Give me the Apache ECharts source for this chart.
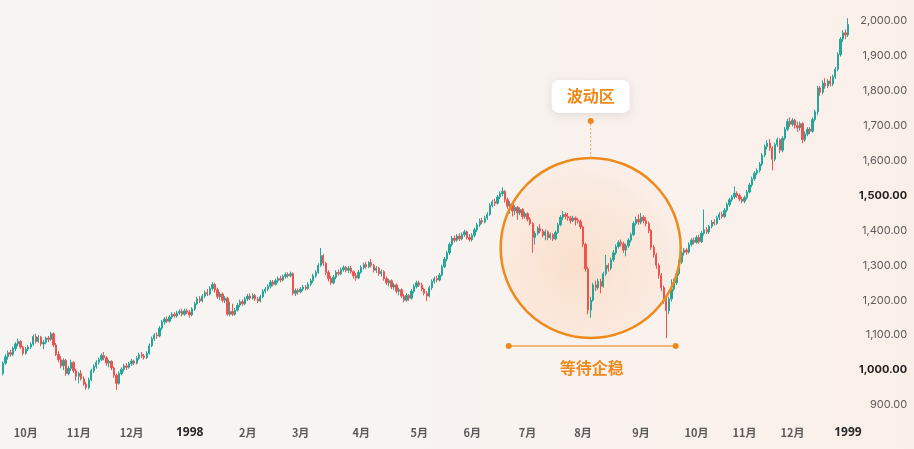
<!DOCTYPE html>
<html><head><meta charset="utf-8">
<script src="https://cdn.jsdelivr.net/npm/echarts@6/dist/echarts.min.js"></script>
<style>
html,body{margin:0;padding:0;width:914px;height:449px;overflow:hidden;
background:linear-gradient(90deg,#f7f5f3 0%,#f8f4f1 45%,#fbefe9 100%);}
#c{width:914px;height:449px;}
</style></head><body><div id="c"></div>
<script>
// Daily candles [open, close, low, high] (Sep 1997 – Dec 1998)
const candlesA = [[990,1020,985,1025],[1020,1038,1015,1045],[1038,1050,1030,1056],[1050,1045,1038,1058],[1045,1062,1040,1068],[1062,1075,1055,1080],[1075,1082,1068,1090],[1082,1066,1060,1086],[1066,1048,1042,1070],[1048,1060,1044,1066],[1060,1066,1055,1072],[1066,1074,1060,1080],[1074,1096,1070,1102],[1096,1082,1076,1104],[1082,1094,1078,1100],[1094,1075,1068,1098],[1075,1080,1060,1086],[1080,1092,1074,1096],[1092,1088,1080,1098],[1088,1104,1084,1110]];
const candlesB = [[1104,1072,1066,1108],[1072,1045,1040,1078],[1045,1030,1022,1054],[1030,1012,1005,1040],[1012,1028,1000,1034],[1028,990,984,1032],[990,1005,985,1012],[1005,1022,998,1030],[1022,998,992,1026],[998,982,970,1004],[982,990,962,995],[990,975,970,1000],[975,960,955,982],[960,950,944,966],[950,972,945,978]];
const candlesC = [[972,998,968,1004],[998,1010,992,1016],[1010,1022,1004,1028],[1022,1030,1016,1036],[1030,1042,1026,1048],[1042,1035,1028,1052],[1035,1020,1012,1040],[1020,1025,1008,1030],[1025,1006,1000,1028],[1006,985,978,1010],[985,962,943,990],[962,990,958,996],[990,1002,985,1008]];
const candlesD = [[1002,1012,996,1018],[1012,1008,1000,1020],[1008,1018,1004,1024],[1018,1026,1012,1032],[1026,1020,1014,1030],[1020,1034,1016,1040],[1034,1044,1028,1050],[1044,1040,1034,1052],[1040,1036,1030,1046],[1036,1048,1032,1054]];
const candlesE = [[1048,1070,1044,1076],[1070,1090,1066,1096],[1090,1100,1084,1106],[1100,1098,1090,1108],[1098,1120,1094,1126],[1120,1138,1114,1144],[1138,1146,1130,1152],[1146,1140,1134,1154],[1140,1152,1136,1158],[1152,1160,1146,1166],[1160,1155,1150,1166],[1155,1164,1150,1170],[1164,1168,1158,1174],[1168,1160,1154,1176],[1160,1170,1156,1176],[1170,1166,1160,1176],[1166,1158,1150,1172],[1158,1175,1154,1180]];
const candlesF = [[1175,1190,1170,1196],[1190,1204,1186,1210],[1204,1198,1192,1212],[1198,1212,1194,1218],[1212,1222,1206,1228],[1222,1218,1212,1232],[1218,1234,1214,1240],[1234,1245,1228,1252],[1245,1230,1222,1250],[1230,1210,1204,1236],[1210,1218,1200,1224],[1218,1200,1194,1222],[1200,1206,1192,1212],[1206,1160,1156,1210],[1160,1168,1154,1196],[1168,1160,1155,1190],[1160,1172,1156,1178]];
const candlesG = [[1172,1186,1168,1192],[1186,1196,1180,1202],[1196,1190,1184,1202],[1190,1204,1186,1210],[1204,1212,1198,1218],[1212,1206,1200,1220],[1206,1214,1202,1220],[1214,1204,1198,1218],[1204,1198,1192,1210],[1198,1210,1194,1216],[1210,1226,1206,1232],[1226,1232,1220,1238],[1232,1240,1226,1246],[1240,1252,1234,1258],[1252,1246,1240,1258],[1246,1256,1242,1262],[1256,1262,1250,1268],[1262,1258,1252,1270]];
const candlesH = [[1258,1268,1254,1274],[1268,1274,1262,1280],[1274,1270,1264,1280],[1270,1276,1266,1282],[1276,1220,1214,1280],[1220,1228,1212,1234],[1228,1224,1216,1234],[1224,1232,1220,1238],[1232,1238,1226,1244],[1238,1234,1228,1244],[1234,1246,1230,1252],[1246,1256,1240,1262],[1256,1270,1250,1276],[1270,1280,1264,1286],[1280,1300,1276,1306],[1300,1328,1296,1350],[1328,1306,1298,1332],[1306,1280,1272,1310],[1280,1262,1254,1286],[1262,1250,1244,1270],[1250,1266,1246,1272]];
const candlesI = [[1266,1280,1260,1286],[1280,1276,1270,1288],[1276,1288,1272,1294],[1288,1294,1282,1300],[1294,1286,1280,1298],[1286,1292,1278,1298],[1292,1282,1276,1298],[1282,1270,1262,1286],[1270,1264,1256,1278],[1264,1280,1260,1286],[1280,1294,1276,1300],[1294,1302,1288,1308],[1302,1296,1290,1310],[1296,1308,1292,1312],[1308,1300,1294,1318],[1300,1286,1280,1304],[1286,1292,1278,1298],[1292,1276,1270,1296],[1276,1282,1268,1288],[1282,1262,1256,1286],[1262,1250,1244,1268],[1250,1256,1240,1262],[1256,1238,1232,1260],[1238,1244,1230,1250],[1244,1226,1220,1248],[1226,1230,1214,1236],[1230,1212,1206,1234]];
const candlesJ = [[1212,1200,1194,1218],[1200,1214,1196,1220],[1214,1206,1198,1218],[1206,1226,1202,1232],[1226,1240,1220,1246],[1240,1250,1234,1256],[1250,1244,1238,1256],[1244,1232,1226,1250],[1232,1220,1214,1236],[1220,1212,1198,1226],[1212,1236,1208,1242],[1236,1254,1230,1260],[1254,1262,1248,1268],[1262,1258,1252,1270],[1258,1272,1254,1278]];
const candlesK = [[1272,1296,1268,1302],[1296,1318,1292,1324],[1318,1336,1312,1342],[1336,1360,1330,1366],[1360,1378,1354,1384],[1378,1372,1366,1386],[1372,1384,1368,1390],[1384,1376,1370,1392],[1376,1388,1372,1394],[1388,1396,1382,1402],[1396,1380,1374,1400],[1380,1374,1368,1390],[1374,1386,1368,1392],[1386,1402,1380,1408],[1402,1416,1396,1422],[1416,1428,1410,1434],[1428,1424,1418,1436],[1424,1436,1420,1442],[1436,1446,1430,1452],[1446,1472,1442,1478],[1472,1482,1466,1488],[1482,1478,1470,1490],[1478,1496,1474,1502],[1496,1506,1490,1512],[1506,1512,1498,1524]];
const candlesL = [[1512,1488,1480,1516],[1488,1470,1462,1494],[1470,1476,1448,1484],[1476,1456,1440,1480],[1456,1466,1444,1472],[1466,1450,1430,1470],[1450,1460,1444,1466],[1460,1440,1432,1464],[1440,1448,1434,1454],[1448,1432,1426,1452],[1432,1420,1414,1438],[1420,1380,1336,1424],[1380,1392,1360,1398],[1392,1406,1386,1412],[1406,1398,1392,1418],[1398,1386,1380,1404],[1386,1396,1372,1402],[1396,1380,1372,1400],[1380,1388,1374,1394],[1388,1376,1370,1392],[1376,1394,1372,1400],[1394,1416,1390,1422],[1416,1438,1412,1444],[1438,1446,1430,1456],[1446,1440,1432,1452],[1440,1436,1428,1450],[1436,1428,1420,1442],[1428,1436,1424,1442],[1436,1430,1414,1440],[1430,1426,1420,1436],[1426,1410,1404,1432],[1410,1360,1352,1414]];
const candlesM = [[1360,1290,1282,1364],[1290,1172,1160,1296],[1172,1200,1150,1210],[1200,1244,1196,1250],[1244,1236,1226,1256],[1236,1254,1230,1262],[1254,1240,1220,1262],[1240,1276,1236,1282],[1276,1300,1270,1330],[1300,1292,1282,1306],[1292,1316,1286,1322],[1316,1336,1310,1344],[1336,1354,1330,1360],[1354,1366,1348,1372],[1366,1362,1354,1374],[1362,1344,1336,1368],[1344,1356,1326,1362],[1356,1372,1350,1378]];
const candlesN = [[1372,1388,1366,1394],[1388,1420,1384,1426],[1420,1432,1414,1440],[1432,1424,1416,1446],[1424,1438,1418,1450],[1438,1428,1420,1444],[1428,1420,1412,1438],[1420,1400,1392,1426],[1400,1352,1344,1404],[1352,1330,1322,1358],[1330,1300,1290,1336],[1300,1272,1262,1306],[1272,1236,1226,1278],[1236,1200,1190,1242],[1200,1170,1092,1206],[1170,1204,1160,1210],[1204,1232,1196,1260],[1232,1250,1226,1262],[1250,1276,1244,1282]];
const candlesO = [[1276,1310,1270,1316],[1310,1336,1304,1342],[1336,1344,1328,1350],[1344,1338,1330,1350],[1338,1360,1334,1366],[1360,1372,1354,1378],[1372,1366,1360,1380],[1366,1380,1362,1386],[1380,1368,1362,1388],[1368,1392,1364,1398],[1392,1402,1386,1460],[1402,1396,1390,1410],[1396,1412,1390,1416],[1412,1424,1406,1430],[1424,1420,1414,1432],[1420,1436,1416,1442],[1436,1446,1430,1452],[1446,1440,1434,1454],[1440,1458,1436,1464],[1458,1474,1452,1480],[1474,1488,1468,1494],[1488,1496,1482,1502],[1496,1506,1490,1526],[1506,1500,1494,1512],[1500,1490,1484,1506],[1490,1484,1478,1496],[1484,1494,1478,1500],[1494,1510,1488,1516],[1510,1530,1506,1536],[1530,1548,1524,1554],[1548,1564,1542,1570],[1564,1572,1558,1578],[1572,1590,1566,1596]];
const candlesP = [[1590,1616,1584,1622],[1616,1640,1610,1646],[1640,1650,1632,1658],[1650,1636,1628,1662],[1636,1604,1572,1642],[1604,1646,1598,1652],[1646,1660,1640,1666],[1660,1630,1622,1664],[1630,1664,1624,1670],[1664,1690,1658,1696],[1690,1712,1684,1720],[1712,1704,1696,1724],[1704,1716,1698,1722],[1716,1700,1692,1720],[1700,1694,1682,1712],[1694,1706,1686,1712],[1706,1660,1650,1710],[1660,1676,1654,1684],[1676,1690,1670,1696],[1690,1684,1676,1696],[1684,1718,1680,1724],[1718,1740,1712,1746]];
const candlesQ = [[1740,1808,1730,1814],[1808,1796,1786,1814],[1796,1822,1790,1830],[1822,1814,1806,1836],[1814,1828,1808,1834],[1828,1820,1812,1842],[1820,1840,1814,1846],[1840,1862,1834,1868],[1862,1904,1856,1910],[1904,1948,1898,1954],[1948,1966,1940,1974],[1966,1960,1948,1976],[1960,1990,1954,2008]];

// Axis tick labels (category position -> text)
const tickIndex = [9,30,51,74,97,118,142,165,186,208,230,253,275,294,313,335];
const tickText  = ['10月','11月','12月','1998','2月','3月','4月','5月','6月','7月','8月','9月','10月','11月','12月','1999'];
const yTicksBold = [1000,1500];

// Annotation texts and anchors (category index, value)
const zoneLabel = '波动区';
const waitLabel = '等待企稳';
const zoneCenter = [233, 1350];

const candles = [].concat(candlesA,candlesB,candlesC,candlesD,candlesE,candlesF,candlesG,candlesH,candlesI,candlesJ,candlesK,candlesL,candlesM,candlesN,candlesO,candlesP,candlesQ);

// trading-day categories (weekdays) starting 1997-09-18
const dates = [];
(function(){
  const d = new Date(Date.UTC(1997,8,18));
  while (dates.length < candles.length) {
    const wd = d.getUTCDay();
    if (wd !== 0 && wd !== 6) dates.push(d.toISOString().slice(0,10));
    d.setUTCDate(d.getUTCDate()+1);
  }
})();

const tickMap = {};
tickIndex.forEach((k,i)=>{ tickMap[k] = tickText[i]; });

const chart = echarts.init(document.getElementById('c'), null, {renderer:'canvas'});
const UP = '#26a69a', DOWN = '#ef5350', ORANGE = '#ee8a1c';
chart.setOption({
  backgroundColor: 'transparent',
  animation: false,
  grid: {left: 1.74, right: 64.8, top: 21, bottom: 44, containLabel: false},
  xAxis: {
    type: 'category', data: dates, boundaryGap: true,
    axisLine: {show: false}, axisTick: {show: false}, splitLine: {show: false},
    axisLabel: {
      interval: (idx) => tickMap[idx] !== undefined,
      margin: 22,
      formatter: (v, idx) => {
        const t = tickMap[idx];
        if (t === undefined) return '';
        return /^\d{4}$/.test(t) ? '{y|' + t + '}' : '{m|' + t + '}';
      },
      rich: {
        m: {fontSize: 11, fontWeight: 600, color: '#5a5a5a', fontFamily: 'Noto Sans CJK SC, Noto Sans, sans-serif'},
        y: {fontSize: 12, fontWeight: 700, color: '#2b2b2b', fontFamily: 'Noto Sans, sans-serif'}
      }
    }
  },
  yAxis: {
    type: 'value', position: 'right', min: 900, max: 2000, interval: 100, scale: true,
    axisLine: {show: false}, axisTick: {show: false}, splitLine: {show: false},
    axisLabel: {
      align: 'right', margin: 58,
      formatter: (v) => {
        const s = v.toLocaleString('en-US', {minimumFractionDigits: 2, maximumFractionDigits: 2});
        return yTicksBold.indexOf(v) >= 0 ? '{b|' + s + '}' : '{n|' + s + '}';
      },
      rich: {
        n: {fontSize: 11, color: '#5c5c5c', fontFamily: 'Inter, Noto Sans, sans-serif'},
        b: {fontSize: 11, fontWeight: 700, color: '#222', fontFamily: 'Inter, Noto Sans, sans-serif'}
      }
    }
  },
  series: [{
    type: 'candlestick', data: candles, clip: false, barWidth: '72%',
    itemStyle: {color: UP, color0: DOWN, borderColor: UP, borderColor0: DOWN, borderWidth: 1}
  }]
});

// Annotation overlay positioned from data anchors
const c = chart.convertToPixel({gridIndex: 0}, zoneCenter);
const cx = c[0], cy = c[1], R = 90;
chart.setOption({
  graphic: [
    {type: 'circle', shape: {cx: cx, cy: cy, r: R}, z: 1, silent: true,
     style: {fill: new echarts.graphic.RadialGradient(0.42, 0.6, 0.65, [
        {offset: 0, color: 'rgba(252,200,160,0.45)'},
        {offset: 0.7, color: 'rgba(252,215,190,0.30)'},
        {offset: 1, color: 'rgba(252,230,215,0.15)'}]), stroke: 'none'}},
    {type: 'circle', shape: {cx: cx, cy: cy, r: R}, z: 10, silent: true,
     style: {fill: 'none', stroke: ORANGE, lineWidth: 2.5}},
    {type: 'line', shape: {x1: cx, y1: cy - R, x2: cx, y2: cy - R - 37}, z: 10, silent: true,
     style: {stroke: '#f0a050', lineWidth: 1, lineDash: [2, 2]}},
    {type: 'circle', shape: {cx: cx, cy: cy - R - 37, r: 3}, z: 10, silent: true,
     style: {fill: ORANGE}},
    {type: 'rect', shape: {x: cx - 39, y: cy - R - 78, width: 78, height: 33, r: 7}, z: 10, silent: true,
     style: {fill: '#ffffff', shadowBlur: 10, shadowColor: 'rgba(0,0,0,0.10)', shadowOffsetY: 2}},
    {type: 'text', x: cx, y: cy - R - 61.5, z: 11, silent: true,
     style: {text: zoneLabel, fill: ORANGE, fontSize: 16, fontWeight: 700,
       fontFamily: 'Noto Sans CJK SC, sans-serif', align: 'center', verticalAlign: 'middle'}},
    {type: 'line', shape: {x1: cx - 82, y1: cy + 98, x2: cx + 85, y2: cy + 98}, z: 10, silent: true,
     style: {stroke: '#f0a050', lineWidth: 1.5}},
    {type: 'circle', shape: {cx: cx - 82, cy: cy + 98, r: 3}, z: 10, silent: true, style: {fill: ORANGE}},
    {type: 'circle', shape: {cx: cx + 85, cy: cy + 98, r: 3}, z: 10, silent: true, style: {fill: ORANGE}},
    {type: 'text', x: cx + 1, y: cy + 120, z: 11, silent: true,
     style: {text: waitLabel, fill: ORANGE, fontSize: 16, fontWeight: 700,
       fontFamily: 'Noto Sans CJK SC, sans-serif', align: 'center', verticalAlign: 'middle'}}
  ]
});
</script></body></html>
